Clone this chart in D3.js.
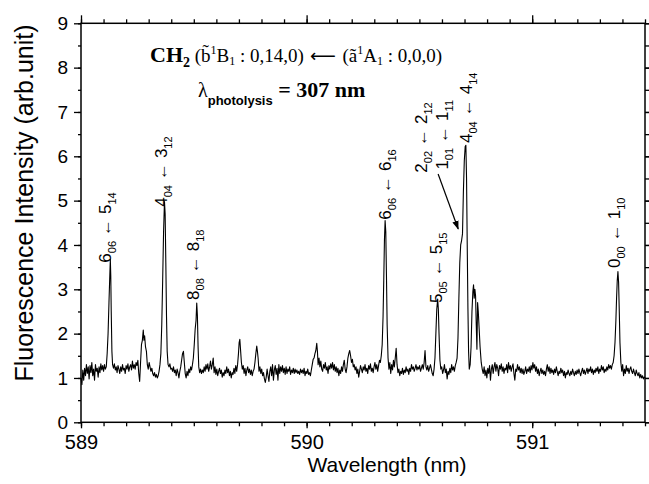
<!DOCTYPE html>
<html>
<head>
<meta charset="utf-8">
<script src="https://cdn.jsdelivr.net/npm/d3@7"></script>
<style>
  body { margin: 0; background: #fff; }
  svg { display: block; }
</style>
</head>
<body>
<svg id="chart" width="649" height="484"></svg>
<script>
// spectrum: [wavelength (nm), intensity (arb. unit)]
const spectrum = [
  [589.000,1.00],[589.004,0.85],[589.008,1.18],[589.012,0.95],[589.016,1.22],[589.020,1.05],[589.024,1.30],[589.028,1.10],
  [589.032,1.25],[589.036,0.98],[589.040,1.28],[589.044,1.12],[589.048,1.35],[589.052,1.05],[589.056,1.20],[589.060,0.95],
  [589.064,1.30],[589.068,1.15],[589.072,1.22],[589.076,1.02],[589.080,1.25],[589.084,1.12],[589.088,1.32],[589.092,1.18],
  [589.096,1.28],[589.100,1.15],[589.104,1.30],[589.108,1.20],[589.112,1.25],[589.116,1.55],[589.120,2.00],[589.124,2.70],
  [589.127,3.20],[589.130,3.68],[589.132,3.30],[589.134,2.50],[589.137,1.60],[589.140,1.30],[589.144,1.22],[589.148,1.32],
  [589.152,1.18],[589.156,1.25],[589.160,1.12],[589.164,1.28],[589.168,1.20],[589.172,1.10],[589.176,1.25],[589.180,1.15],
  [589.184,1.30],[589.188,1.18],[589.192,1.22],[589.196,1.10],[589.200,1.28],[589.204,1.20],[589.208,1.32],[589.212,1.15],
  [589.216,1.25],[589.220,1.30],[589.224,1.18],[589.228,1.38],[589.232,1.22],[589.236,1.30],[589.240,1.20],[589.244,1.35],
  [589.248,1.28],[589.252,1.40],[589.256,1.10],[589.260,0.92],[589.264,1.35],[589.268,1.75],[589.272,1.85],[589.276,2.08],
  [589.279,1.85],[589.282,1.95],[589.286,1.70],[589.290,1.60],[589.294,1.30],[589.298,1.20],[589.302,1.35],[589.306,1.25],
  [589.310,1.15],[589.314,1.22],[589.318,1.10],[589.322,1.05],[589.326,1.12],[589.330,1.02],[589.334,1.08],[589.338,1.00],
  [589.342,1.05],[589.346,1.15],[589.350,1.30],[589.354,1.55],[589.358,2.20],[589.362,3.20],[589.366,4.30],[589.370,4.98],
  [589.373,4.70],[589.376,3.60],[589.379,2.40],[589.382,1.60],[589.386,1.30],[589.390,1.25],[589.394,1.32],[589.398,1.20],
  [589.402,1.22],[589.406,1.15],[589.410,1.25],[589.414,1.12],[589.418,1.18],[589.422,1.05],[589.426,1.20],[589.430,1.12],
  [589.434,1.00],[589.438,1.15],[589.442,1.25],[589.446,1.40],[589.450,1.55],[589.454,1.60],[589.458,1.35],[589.462,1.10],
  [589.466,1.00],[589.470,1.15],[589.474,1.05],[589.478,1.20],[589.482,1.12],[589.486,1.25],[589.490,1.18],[589.494,1.30],
  [589.498,1.45],[589.502,1.75],[589.506,2.10],[589.510,2.30],[589.513,2.69],[589.516,2.40],[589.519,1.70],[589.522,1.25],
  [589.526,1.12],[589.530,1.20],[589.534,1.10],[589.538,1.18],[589.542,1.12],[589.546,1.25],[589.550,1.15],[589.554,1.30],
  [589.558,1.20],[589.562,1.32],[589.566,1.15],[589.570,1.25],[589.574,1.38],[589.578,1.20],[589.582,1.30],[589.586,1.45],
  [589.590,1.12],[589.594,1.25],[589.598,1.08],[589.602,1.20],[589.606,1.05],[589.610,1.15],[589.614,1.22],[589.618,1.10],
  [589.622,1.18],[589.626,1.02],[589.630,1.12],[589.634,1.05],[589.638,1.18],[589.642,1.10],[589.646,1.25],[589.650,1.12],
  [589.654,1.20],[589.658,1.05],[589.662,1.15],[589.666,1.00],[589.670,1.12],[589.674,1.08],[589.678,1.22],[589.682,1.10],
  [589.686,1.28],[589.690,1.15],[589.694,1.30],[589.698,1.55],[589.701,1.80],[589.704,1.87],[589.707,1.65],[589.711,1.35],
  [589.715,1.20],[589.719,1.28],[589.723,1.10],[589.727,1.22],[589.731,1.05],[589.735,1.18],[589.739,1.25],[589.743,1.12],
  [589.747,1.20],[589.751,1.08],[589.755,1.18],[589.759,1.05],[589.763,1.15],[589.767,1.20],[589.771,1.35],[589.775,1.55],
  [589.779,1.72],[589.782,1.60],[589.785,1.45],[589.789,1.15],[589.793,1.25],[589.797,1.10],[589.801,1.20],[589.805,1.05],
  [589.809,1.12],[589.813,0.98],[589.817,0.90],[589.821,1.02],[589.825,1.20],[589.829,1.05],[589.833,0.92],[589.837,1.15],
  [589.841,1.25],[589.845,1.05],[589.849,1.30],[589.853,0.95],[589.857,1.18],[589.861,1.28],[589.865,1.08],[589.869,1.22],
  [589.873,0.95],[589.877,1.30],[589.881,1.10],[589.885,1.25],[589.889,1.15],[589.893,1.28],[589.897,1.12],[589.901,1.22],
  [589.905,1.08],[589.909,1.25],[589.913,1.10],[589.917,1.20],[589.921,1.15],[589.925,1.25],[589.929,1.08],[589.933,1.18],
  [589.937,1.12],[589.941,1.22],[589.945,1.10],[589.949,1.20],[589.953,1.12],[589.957,1.18],[589.961,1.10],[589.965,1.15],
  [589.969,1.08],[589.973,1.20],[589.977,1.12],[589.981,1.18],[589.985,1.10],[589.989,1.22],[589.993,1.05],[589.997,1.15],
  [590.001,1.10],[590.005,1.20],[590.009,1.08],[590.013,1.12],[590.017,1.05],[590.021,1.18],[590.025,1.30],[590.029,1.42],
  [590.033,1.45],[590.037,1.55],[590.041,1.62],[590.045,1.78],[590.048,1.60],[590.051,1.30],[590.055,1.45],[590.059,1.25],
  [590.063,1.38],[590.067,1.20],[590.071,1.15],[590.075,1.30],[590.079,1.22],[590.083,1.35],[590.087,1.18],[590.091,1.25],
  [590.095,1.10],[590.099,1.28],[590.103,1.20],[590.107,1.32],[590.111,1.22],[590.115,1.35],[590.119,1.18],[590.123,1.30],
  [590.127,1.15],[590.131,1.25],[590.135,1.12],[590.139,1.22],[590.143,1.05],[590.147,1.18],[590.151,1.10],[590.155,1.25],
  [590.159,1.15],[590.163,1.30],[590.167,1.40],[590.171,1.20],[590.175,1.12],[590.179,1.25],[590.183,1.45],[590.187,1.55],
  [590.191,1.62],[590.195,1.50],[590.199,1.35],[590.203,1.42],[590.207,1.25],[590.211,1.30],[590.215,1.18],[590.219,1.25],
  [590.223,1.10],[590.227,1.20],[590.231,1.02],[590.235,1.15],[590.239,1.28],[590.243,1.20],[590.247,1.12],[590.251,1.25],
  [590.255,1.18],[590.259,1.30],[590.263,1.15],[590.267,1.22],[590.271,1.10],[590.275,1.28],[590.279,1.20],[590.283,1.32],
  [590.287,1.15],[590.291,1.22],[590.295,1.12],[590.299,1.25],[590.303,1.35],[590.307,1.20],[590.311,1.30],[590.315,1.15],
  [590.319,1.28],[590.323,1.40],[590.327,1.35],[590.331,1.50],[590.335,1.75],[590.339,2.40],[590.342,3.20],[590.345,4.10],
  [590.348,4.55],[590.351,4.30],[590.354,3.30],[590.357,2.20],[590.361,1.45],[590.365,1.20],[590.369,1.35],[590.373,1.10],
  [590.377,1.30],[590.381,1.18],[590.385,1.40],[590.389,1.25],[590.393,1.45],[590.397,1.67],[590.401,1.30],[590.405,1.12],
  [590.409,1.20],[590.413,1.05],[590.417,1.15],[590.421,1.10],[590.425,1.22],[590.429,1.08],[590.433,1.18],[590.437,1.12],
  [590.441,1.25],[590.445,1.15],[590.449,1.20],[590.453,1.08],[590.457,1.22],[590.461,1.15],[590.465,1.30],[590.469,1.20],
  [590.473,1.25],[590.477,1.15],[590.481,1.22],[590.485,1.30],[590.489,1.18],[590.493,1.25],[590.497,1.20],[590.501,1.28],
  [590.505,1.15],[590.509,1.22],[590.513,1.30],[590.517,1.20],[590.521,1.35],[590.525,1.62],[590.529,1.25],[590.533,1.18],
  [590.537,1.28],[590.541,1.15],[590.545,1.22],[590.549,1.30],[590.553,1.20],[590.557,1.10],[590.561,1.05],[590.565,1.20],
  [590.569,1.45],[590.573,2.00],[590.577,2.55],[590.581,2.78],[590.584,2.55],[590.587,2.00],[590.591,1.40],[590.595,1.20],
  [590.599,1.25],[590.603,1.10],[590.607,1.18],[590.611,1.30],[590.615,1.12],[590.619,1.20],[590.623,0.98],[590.627,1.15],
  [590.631,1.08],[590.635,1.22],[590.639,1.12],[590.643,1.30],[590.647,1.18],[590.651,1.25],[590.655,1.15],[590.659,1.28],
  [590.663,1.35],[590.667,1.45],[590.671,1.90],[590.675,2.80],[590.679,3.60],[590.683,4.00],[590.687,4.10],[590.691,4.25],
  [590.695,5.20],[590.699,5.90],[590.703,6.22],[590.706,6.25],[590.709,5.50],[590.712,4.00],[590.715,2.60],[590.718,1.60],
  [590.721,1.20],[590.725,1.30],[590.729,1.70],[590.733,2.50],[590.737,2.95],[590.740,3.10],[590.743,2.80],[590.746,3.00],
  [590.749,2.85],[590.752,2.20],[590.755,1.65],[590.758,2.70],[590.761,2.50],[590.765,2.10],[590.769,1.70],[590.774,1.35],
  [590.779,1.18],[590.783,1.10],[590.787,1.25],[590.791,1.05],[590.795,1.18],[590.799,1.00],[590.803,1.22],[590.807,1.10],
  [590.811,1.28],[590.815,0.95],[590.819,1.20],[590.823,1.30],[590.827,1.10],[590.831,1.25],[590.835,1.35],[590.839,1.15],
  [590.843,1.30],[590.847,1.22],[590.851,1.05],[590.855,1.28],[590.859,1.20],[590.863,1.32],[590.867,1.15],[590.871,1.25],
  [590.875,1.10],[590.879,1.22],[590.883,1.18],[590.887,1.30],[590.891,1.12],[590.895,1.35],[590.899,1.20],[590.903,1.28],
  [590.907,1.15],[590.911,1.25],[590.915,1.32],[590.919,1.10],[590.923,0.95],[590.927,1.20],[590.931,1.15],[590.935,1.30],
  [590.939,1.18],[590.943,1.25],[590.947,1.12],[590.951,1.22],[590.955,1.10],[590.959,1.20],[590.963,1.08],[590.967,1.15],
  [590.971,1.25],[590.975,1.10],[590.979,1.20],[590.983,1.15],[590.987,1.25],[590.991,1.12],[590.995,1.28],[590.999,1.18],
  [591.003,1.35],[591.007,1.22],[591.011,1.30],[591.015,1.15],[591.019,1.25],[591.023,1.10],[591.027,1.20],[591.031,1.05],
  [591.035,1.15],[591.039,1.22],[591.043,1.10],[591.047,1.18],[591.051,1.08],[591.055,1.15],[591.059,1.05],[591.063,1.20],
  [591.067,1.30],[591.071,1.15],[591.075,1.25],[591.079,1.10],[591.083,1.22],[591.087,1.12],[591.091,1.18],[591.095,1.08],
  [591.099,1.20],[591.103,1.12],[591.107,1.25],[591.111,1.15],[591.115,1.05],[591.119,1.15],[591.123,1.10],[591.127,1.22],
  [591.131,1.12],[591.135,1.18],[591.139,1.05],[591.143,1.15],[591.147,1.00],[591.151,1.12],[591.155,1.08],[591.159,1.18],
  [591.163,1.10],[591.167,1.05],[591.171,1.15],[591.175,1.08],[591.179,1.20],[591.183,1.12],[591.187,1.05],[591.191,1.15],
  [591.195,1.08],[591.199,1.18],[591.203,1.10],[591.207,1.20],[591.211,1.12],[591.215,1.05],[591.219,1.15],[591.223,1.22],
  [591.227,1.10],[591.231,1.18],[591.235,1.08],[591.239,1.15],[591.243,1.22],[591.247,1.10],[591.251,1.20],[591.255,1.15],
  [591.259,1.25],[591.263,1.12],[591.267,1.20],[591.271,1.08],[591.275,1.18],[591.279,1.12],[591.283,1.22],[591.287,1.15],
  [591.291,1.25],[591.295,1.10],[591.299,1.20],[591.303,1.15],[591.307,1.28],[591.311,1.18],[591.315,1.25],[591.319,1.12],
  [591.323,1.20],[591.327,1.15],[591.331,1.25],[591.335,1.18],[591.339,1.30],[591.343,1.22],[591.347,1.28],[591.351,1.20],
  [591.355,1.30],[591.359,1.35],[591.363,1.50],[591.367,1.80],[591.371,2.30],[591.374,2.80],[591.377,3.20],[591.380,3.40],
  [591.383,3.15],[591.386,2.50],[591.389,1.80],[591.393,1.35],[591.397,1.15],[591.401,1.30],[591.405,1.05],[591.409,1.20],
  [591.413,1.10],[591.417,1.28],[591.421,1.15],[591.425,1.22],[591.429,1.10],[591.433,1.20],[591.437,1.25],[591.441,1.15],
  [591.445,1.10],[591.449,1.20],[591.453,1.12],[591.457,1.05],[591.461,1.18],[591.465,1.10],[591.469,1.05],[591.473,1.12],
  [591.477,1.00],[591.481,1.08],[591.485,1.00],[591.489,1.05],[591.493,0.98],[591.497,1.02],[591.500,1.00]
];

const xTicks = [589, 590, 591];
const xMinorTicks = d3.range(5890, 5916).map(d => d / 10);
const yTicks = [0, 1, 2, 3, 4, 5, 6, 7, 8, 9];
const yMinorTicks = d3.range(0, 19).map(d => d / 2);

// assignments: [wavelength of label baseline, intensity where label starts, lower level, upper level]
const peakLabels = [
  [589.133, 3.60, ['6', '06'], ['5', '14']],
  [589.382, 4.86, ['4', '04'], ['3', '12']],
  [589.523, 2.76, ['8', '08'], ['8', '18']],
  [590.375, 4.57, ['6', '06'], ['6', '16']],
  [590.599, 2.69, ['5', '05'], ['5', '15']],
  [590.534, 5.63, ['2', '02'], ['2', '12']],
  [590.627, 5.70, ['1', '01'], ['1', '11']],
  [590.734, 6.30, ['4', '04'], ['4', '14']],
  [591.390, 3.48, ['0', '00'], ['1', '10']]
];

// pointer from the 2_02 / 1_01 labels to the shoulder of the big peak
const pointer = [[590.583, 5.60], [590.672, 4.36]];

const svg = d3.select('#chart');
const plotLeft = 81, plotRight = 645, plotTop = 23.3, plotBottom = 422.3;

const x = d3.scaleLinear().domain([589, 591.5]).range([plotLeft, plotRight]);
const y = d3.scaleLinear().domain([0, 9]).range([plotBottom, plotTop]);

const sans = 'Liberation Sans, Arial, Helvetica, sans-serif';
const serif = 'Liberation Serif, Times New Roman, serif';

function styleAxis(g) {
  g.select('.domain').remove();
  g.selectAll('line').attr('stroke', '#000').attr('stroke-width', 1.3);
  g.selectAll('text').attr('fill', '#000').attr('font-family', sans);
}

// minor ticks
svg.append('g').attr('transform', 'translate(0,' + plotBottom + ')')
  .call(d3.axisBottom(x).tickValues(xMinorTicks).tickSize(4).tickFormat(''))
  .call(styleAxis);
svg.append('g').attr('transform', 'translate(0,' + plotTop + ')')
  .call(d3.axisTop(x).tickValues(xMinorTicks).tickSize(4).tickFormat(''))
  .call(styleAxis);
svg.append('g').attr('transform', 'translate(' + plotLeft + ',0)')
  .call(d3.axisLeft(y).tickValues(yMinorTicks).tickSize(3).tickFormat(''))
  .call(styleAxis);
svg.append('g').attr('transform', 'translate(' + plotRight + ',0)')
  .call(d3.axisRight(y).tickValues(yMinorTicks).tickSize(4).tickFormat(''))
  .call(styleAxis);

// major ticks
svg.append('g').attr('transform', 'translate(0,' + plotBottom + ')')
  .call(d3.axisBottom(x).tickValues(xTicks).tickSize(6).tickPadding(7).tickFormat(d3.format('d')))
  .call(styleAxis)
  .selectAll('text').attr('font-size', 20);
svg.append('g').attr('transform', 'translate(0,' + plotTop + ')')
  .call(d3.axisTop(x).tickValues(xTicks).tickSize(8).tickFormat(''))
  .call(styleAxis);
svg.append('g').attr('transform', 'translate(' + plotLeft + ',0)')
  .call(d3.axisLeft(y).tickValues(yTicks).tickSize(7).tickPadding(6).tickFormat(d3.format('d')))
  .call(styleAxis)
  .selectAll('text').attr('font-size', 19);
svg.append('g').attr('transform', 'translate(' + plotRight + ',0)')
  .call(d3.axisRight(y).tickValues(yTicks).tickSize(5).tickFormat(''))
  .call(styleAxis);

// frame
svg.append('rect')
  .attr('x', plotLeft).attr('y', plotTop)
  .attr('width', plotRight - plotLeft).attr('height', plotBottom - plotTop)
  .attr('fill', 'none').attr('stroke', '#000').attr('stroke-width', 1.5);

// spectrum
const line = d3.line().x(d => x(d[0])).y(d => y(d[1]));
svg.append('path')
  .datum(spectrum)
  .attr('d', line)
  .attr('fill', 'none')
  .attr('stroke', '#000')
  .attr('stroke-width', 1.1)
  .attr('stroke-linejoin', 'round');

// axis titles
svg.append('text')
  .attr('x', 387).attr('y', 472)
  .attr('text-anchor', 'middle')
  .attr('font-family', sans).attr('font-size', 21)
  .text('Wavelength (nm)');
svg.append('text')
  .attr('transform', 'translate(33,203) rotate(-90)')
  .attr('text-anchor', 'middle')
  .attr('font-family', sans).attr('font-size', 25)
  .text('Fluorescence Intensity (arb.unit)');

// rotational assignment labels
peakLabels.forEach(function(d) {
  const t = svg.append('text')
    .attr('transform', 'translate(' + x(d[0]) + ',' + y(d[1]) + ') rotate(-90)')
    .attr('font-family', sans).attr('font-size', 17);
  t.append('tspan').text(d[2][0]);
  t.append('tspan').attr('font-size', 11).attr('dy', 5).text(d[2][1]);
  t.append('tspan').attr('dy', -5).attr('dx', 5).text('\u2190');
  t.append('tspan').attr('dx', 5).text(d[3][0]);
  t.append('tspan').attr('font-size', 11).attr('dy', 5).text(d[3][1]);
});

svg.append('defs').append('marker')
  .attr('id', 'head')
  .attr('viewBox', '0 0 10 10')
  .attr('refX', 9).attr('refY', 5)
  .attr('markerWidth', 9).attr('markerHeight', 9)
  .attr('markerUnits', 'userSpaceOnUse')
  .attr('orient', 'auto')
  .append('path').attr('d', 'M0,1.5 L10,5 L0,8.5 Z').attr('fill', '#000');

svg.append('line')
  .attr('x1', x(pointer[0][0])).attr('y1', y(pointer[0][1]))
  .attr('x2', x(pointer[1][0])).attr('y2', y(pointer[1][1]))
  .attr('stroke', '#000').attr('stroke-width', 1.2)
  .attr('marker-end', 'url(#head)');

// transition title
const t1 = svg.append('text')
  .attr('x', 150).attr('y', 62)
  .attr('font-family', serif).attr('font-size', 19);
t1.append('tspan').attr('font-weight', 'bold').attr('font-size', 22).text('CH');
t1.append('tspan').attr('font-weight', 'bold').attr('font-size', 14).attr('dy', 5).text('2');
t1.append('tspan').attr('dy', -5).text(' (b\u0303');
t1.append('tspan').attr('font-size', 12).attr('dy', -8).text('1');
t1.append('tspan').attr('dy', 8).text('B');
t1.append('tspan').attr('font-size', 12).attr('dy', 3).text('1');
t1.append('tspan').attr('dy', -3).text(' : 0,14,0)');
t1.append('tspan').attr('font-family', 'DejaVu Sans').attr('font-size', 18).attr('dx', 6).text('\u27F5');
t1.append('tspan').attr('dx', 2).text(' (a\u0303');
t1.append('tspan').attr('font-size', 12).attr('dy', -8).text('1');
t1.append('tspan').attr('dy', 8).text('A');
t1.append('tspan').attr('font-size', 12).attr('dy', 3).text('1');
t1.append('tspan').attr('dy', -3).text(' : 0,0,0)');

const t2 = svg.append('text')
  .attr('x', 198).attr('y', 97)
  .attr('font-family', serif).attr('font-size', 20);
t2.append('tspan').text('\u03BB');
t2.append('tspan').attr('font-family', sans).attr('font-weight', 'bold').attr('font-size', 13).attr('dy', 8).text('photolysis');
t2.append('tspan').attr('font-weight', 'bold').attr('font-size', 22).attr('dy', -8).text(' = 307 nm');
</script>
</body>
</html>
